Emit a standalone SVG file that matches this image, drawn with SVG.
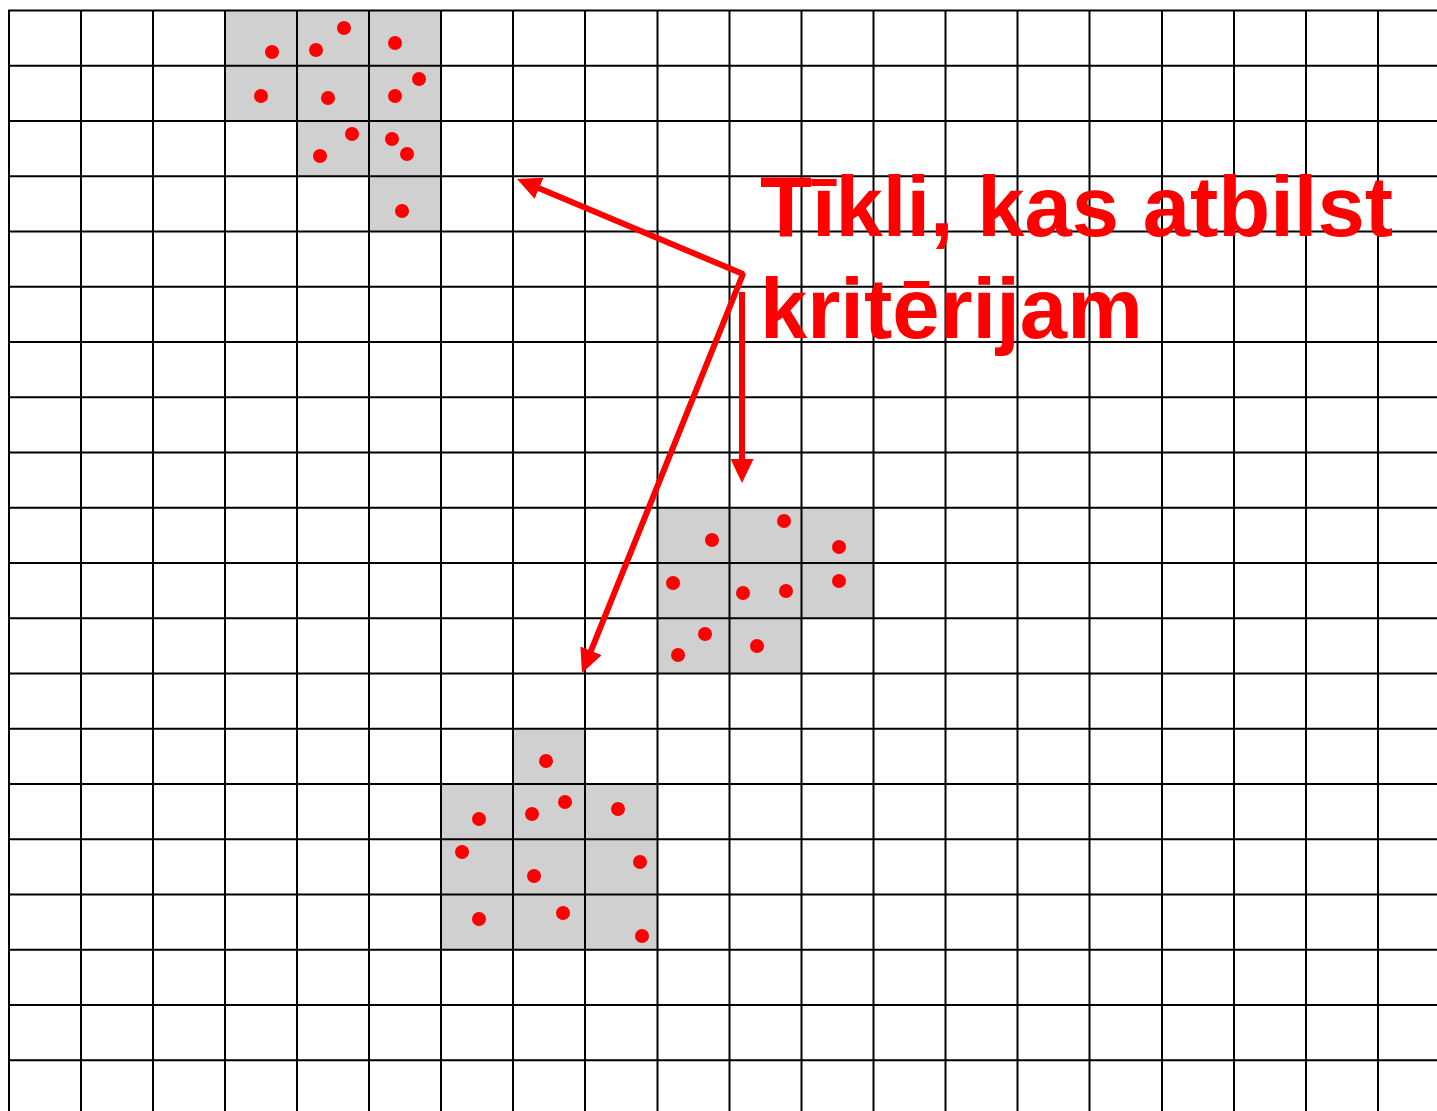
<svg xmlns="http://www.w3.org/2000/svg" width="1437" height="1111" viewBox="0 0 1437 1111">
  <style>
    .cell { fill: #d0d0d0; }
    .grid { stroke: #000; stroke-width: 2; fill: none; }
    .dot { fill: #ff0000; }
    .arrow { stroke: #ff0000; stroke-width: 6; fill: none; stroke-linejoin: bevel; }
    .label { font-family: "Liberation Sans", Arial, sans-serif; font-weight: bold; font-size: 85px; fill: #ff0000; }
  </style>
  <defs>
    <marker id="ah" markerUnits="userSpaceOnUse" markerWidth="24" markerHeight="23" refX="4" refY="11.5" orient="auto-start-reverse" viewBox="0 0 24 23">
      <path d="M0,0 L24,11.5 L0,23 z" fill="#ff0000"/>
    </marker>
  </defs>
  <rect width="1437" height="1111" fill="#fff"/>

  <g id="cluster1">
    <rect class="cell" x="225" y="10.5" width="216" height="111.25"/>
    <rect class="cell" x="297" y="121" width="144" height="55.25"/>
    <rect class="cell" x="369" y="176.25" width="72" height="55.25"/>
  </g>
  <g id="cluster2">
    <rect class="cell" x="657.5" y="507.75" width="216" height="110.5"/>
    <rect class="cell" x="657.5" y="618.25" width="144" height="55.25"/>
  </g>
  <g id="cluster3">
    <rect class="cell" x="513" y="728.75" width="72" height="55.25"/>
    <rect class="cell" x="441" y="784" width="216" height="165.75"/>
  </g>

  <g id="grid" class="grid">
    <path d="M9,10.5V1111 M81,10.5V1111 M153,10.5V1111 M225,10.5V1111 M297,10.5V1111 M369,10.5V1111 M441,10.5V1111 M513,10.5V1111 M585,10.5V1111 M657.5,10.5V1111 M729.5,10.5V1111 M801.5,10.5V1111 M873.5,10.5V1111 M945.5,10.5V1111 M1017.5,10.5V1111 M1089.5,10.5V1111 M1162,10.5V1111 M1234,10.5V1111 M1306,10.5V1111 M1378,10.5V1111"/>
    <path d="M8,10.5H1437 M8,65.75H1437 M8,121H1437 M8,176.25H1437 M8,231.5H1437 M8,286.75H1437 M8,342H1437 M8,397.25H1437 M8,452.5H1437 M8,507.75H1437 M8,563H1437 M8,618.25H1437 M8,673.5H1437 M8,728.75H1437 M8,784H1437 M8,839.25H1437 M8,894.5H1437 M8,949.75H1437 M8,1005H1437 M8,1060.25H1437"/>
  </g>

  <g id="dots1">
    <circle class="dot" cx="272" cy="52" r="7"/>
    <circle class="dot" cx="316" cy="50" r="7"/>
    <circle class="dot" cx="344" cy="28" r="7"/>
    <circle class="dot" cx="395" cy="43" r="7"/>
    <circle class="dot" cx="261" cy="96" r="7"/>
    <circle class="dot" cx="328" cy="98" r="7"/>
    <circle class="dot" cx="395" cy="96" r="7"/>
    <circle class="dot" cx="419" cy="79" r="7"/>
    <circle class="dot" cx="352" cy="134" r="7"/>
    <circle class="dot" cx="320" cy="156" r="7"/>
    <circle class="dot" cx="392" cy="139" r="7"/>
    <circle class="dot" cx="407" cy="154" r="7"/>
    <circle class="dot" cx="402" cy="211" r="7"/>
  </g>
  <g id="dots2">
    <circle class="dot" cx="712" cy="540" r="7"/>
    <circle class="dot" cx="784" cy="521" r="7"/>
    <circle class="dot" cx="839" cy="547" r="7"/>
    <circle class="dot" cx="673" cy="583" r="7"/>
    <circle class="dot" cx="743" cy="593" r="7"/>
    <circle class="dot" cx="786" cy="591" r="7"/>
    <circle class="dot" cx="839" cy="581" r="7"/>
    <circle class="dot" cx="705" cy="634" r="7"/>
    <circle class="dot" cx="678" cy="655" r="7"/>
    <circle class="dot" cx="757" cy="646" r="7"/>
  </g>
  <g id="dots3">
    <circle class="dot" cx="546" cy="761" r="7"/>
    <circle class="dot" cx="479" cy="819" r="7"/>
    <circle class="dot" cx="532" cy="814" r="7"/>
    <circle class="dot" cx="565" cy="802" r="7"/>
    <circle class="dot" cx="618" cy="809" r="7"/>
    <circle class="dot" cx="462" cy="852" r="7"/>
    <circle class="dot" cx="534" cy="876" r="7"/>
    <circle class="dot" cx="640" cy="862" r="7"/>
    <circle class="dot" cx="479" cy="919" r="7"/>
    <circle class="dot" cx="563" cy="913" r="7"/>
    <circle class="dot" cx="642" cy="936" r="7"/>
  </g>

  <g id="connectors">
    <path class="arrow" d="M535.4,186.7 L743,274 L589.5,654.5" marker-start="url(#ah)" marker-end="url(#ah)"/>
    <path class="arrow" d="M742,292 L742,463" marker-end="url(#ah)"/>
  </g>

  <g id="label">
    <text class="label" x="760" y="236">Tīkli, kas atbilst</text>
    <text class="label" x="760" y="338">kritērijam</text>
  </g>
</svg>
